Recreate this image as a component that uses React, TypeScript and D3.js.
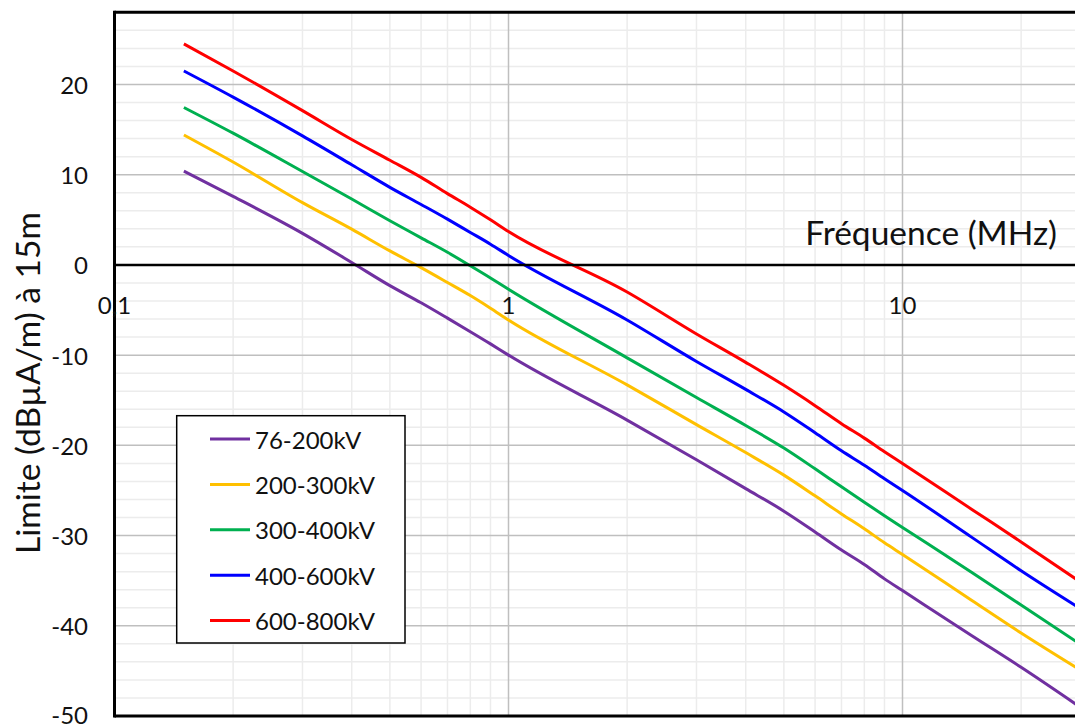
import React from 'react';
import * as d3 from 'd3';

// frequencies (MHz)
const freqs = [0.15, 0.2, 0.3, 0.4, 0.5, 0.6, 0.7, 0.8, 0.9, 1, 2, 3, 4, 5, 6, 7, 8, 9, 10, 15, 20, 30];

// limits (dBµA/m at 15 m)
const kv76_200 = [10.4, 7.6, 3.5, 0.27, -2.3, -4.2, -5.9, -7.4, -8.75, -10.0, -17.2, -21.6, -24.8, -27.3, -29.6, -31.6, -33.2, -34.8, -36.1, -41.1, -44.6, -49.8];
const kv200_300 = [14.4, 11.4, 6.9, 3.96, 1.55, -0.3, -1.95, -3.4, -4.8, -6.1, -13.3, -17.7, -20.8, -23.3, -25.6, -27.6, -29.25, -30.8, -32.1, -37.2, -40.8, -45.6];
const kv300_400 = [17.45, 14.6, 10.35, 7.3, 4.9, 3.0, 1.4, -0.1, -1.45, -2.7, -10.3, -14.7, -17.8, -20.3, -22.6, -24.6, -26.3, -27.8, -29.1, -34.1, -37.7, -42.8];
const kv400_600 = [21.5, 18.6, 14.3, 11.1, 8.6, 6.7, 5.07, 3.6, 2.3, 1.05, -6.1, -10.7, -13.8, -16.3, -18.6, -20.6, -22.2, -23.7, -25.0, -30.2, -33.9, -38.8];
const kv600_800 = [24.5, 21.5, 17.1, 13.9, 11.6, 9.7, 7.9, 6.4, 5.0, 3.7, -3.0, -7.65, -10.8, -13.35, -15.6, -17.6, -19.2, -20.7, -22.0, -27.1, -30.7, -35.9];

const seriesNames = ['76-200kV', '200-300kV', '300-400kV', '400-600kV', '600-800kV'];
const seriesValues = [kv76_200, kv200_300, kv300_400, kv400_600, kv600_800];
const seriesColors = ['#7030A0', '#FFC000', '#00B050', '#0000FF', '#FF0000'];

const yTicks = [20, 10, 0, -10, -20, -30, -40, -50];
const xTickLabels = [
  { v: 0.1, label: '0,1' },
  { v: 1, label: '1' },
  { v: 10, label: '10' },
];

const W = 1075;
const H = 728;
const font = 'Lato, "Open Sans", sans-serif';

const App = () => {
  const left = 114.5, top = 12.3, bottom = 716;
  const x = d3.scaleLog().domain([0.1, 30]).range([left, left + 394 * Math.log10(300)]);
  const y = d3.scaleLinear().domain([-50, 28]).range([bottom, top]);
  const right = x(30);

  // grid
  const minorX: number[] = [];
  [0.1, 1, 10].forEach((d) => {
    for (let k = 2; k <= 9; k++) if (d * k <= 30) minorX.push(d * k);
  });
  minorX.push(30);
  const minorY = d3.range(-48, 28, 2).filter((v) => v % 10 !== 0);
  const majorY = [20, 10, -10, -20, -30, -40];

  const line = d3.line<number>()
    .x((_, i) => x(freqs[i]))
    .y((d) => y(d))
    .curve(d3.curveMonotoneX);

  return (
    <svg width={W} height={H} style={{ position: 'absolute', left: 0, top: 0, background: '#fff' }}>
      <defs>
        <clipPath id="plot">
          <rect x={left} y={top} width={right - left} height={bottom - top} />
        </clipPath>
      </defs>

      {/* minor gridlines */}
      <g stroke="#ececec" strokeWidth={1.5}>
        {minorY.map((v) => (
          <line key={'my' + v} x1={left} x2={right} y1={y(v)} y2={y(v)} />
        ))}
        {minorX.map((v) => (
          <line key={'mx' + v} x1={x(v)} x2={x(v)} y1={top} y2={bottom} />
        ))}
      </g>
      {/* major gridlines */}
      <g stroke="#bfbfbf" strokeWidth={1.5}>
        {majorY.map((v) => (
          <line key={'My' + v} x1={left} x2={right} y1={y(v)} y2={y(v)} />
        ))}
        {[1, 10].map((v) => (
          <line key={'Mx' + v} x1={x(v)} x2={x(v)} y1={top} y2={bottom} />
        ))}
      </g>

      {/* curves */}
      <g clipPath="url(#plot)" fill="none" strokeWidth={3} strokeLinejoin="round">
        {seriesValues.map((vals, i) => (
          <path key={seriesNames[i]} d={line(vals) || ''} stroke={seriesColors[i]} />
        ))}
      </g>

      {/* frame and zero axis */}
      <g stroke="#000" fill="none">
        <line x1={left} x2={right} y1={top} y2={top} strokeWidth={3} />
        <line x1={left} x2={right} y1={bottom} y2={bottom} strokeWidth={3} />
        <line x1={left} x2={left} y1={top - 1.5} y2={bottom + 1.5} strokeWidth={3} />
        <line x1={left} x2={right} y1={y(0)} y2={y(0)} strokeWidth={2.5} />
      </g>

      {/* y tick labels */}
      <g fontFamily={font} fontSize={24} fill="#111" textAnchor="end">
        {yTicks.map((t) => (
          <text key={t} x={88} y={t === -50 ? y(t) - 2 : y(t)} dominantBaseline="central">{t}</text>
        ))}
      </g>
      {/* x tick labels */}
      <g fontFamily={font} fontSize={24} fill="#111" textAnchor="middle">
        {xTickLabels.map((t) => (
          <text key={t.label} x={x(t.v)} y={y(0) + 40} dominantBaseline="central">{t.label}</text>
        ))}
      </g>

      {/* axis titles */}
      <text x={1057} y={245} fontFamily={font} fontSize={33.5} fill="#111" textAnchor="end">Fréquence (MHz)</text>
      <text
        transform={`translate(40, 383) rotate(-90)`}
        fontFamily={font}
        fontSize={33.5}
        fill="#111"
        textAnchor="middle"
      >
        Limite (dBµA/m) à 15m
      </text>

      {/* legend */}
      <g>
        <rect x={176.7} y={415.7} width={228.3} height={227.3} fill="#fff" stroke="#000" strokeWidth={1.5} />
        {seriesNames.map((name, i) => {
          const cy = 439 + i * 45.4;
          return (
            <g key={name}>
              <line x1={210} x2={250} y1={cy} y2={cy} stroke={seriesColors[i]} strokeWidth={3} />
              <text x={255} y={cy} fontFamily={font} fontSize={24} fill="#111" dominantBaseline="central">{name}</text>
            </g>
          );
        })}
      </g>
    </svg>
  );
};

export default App;
